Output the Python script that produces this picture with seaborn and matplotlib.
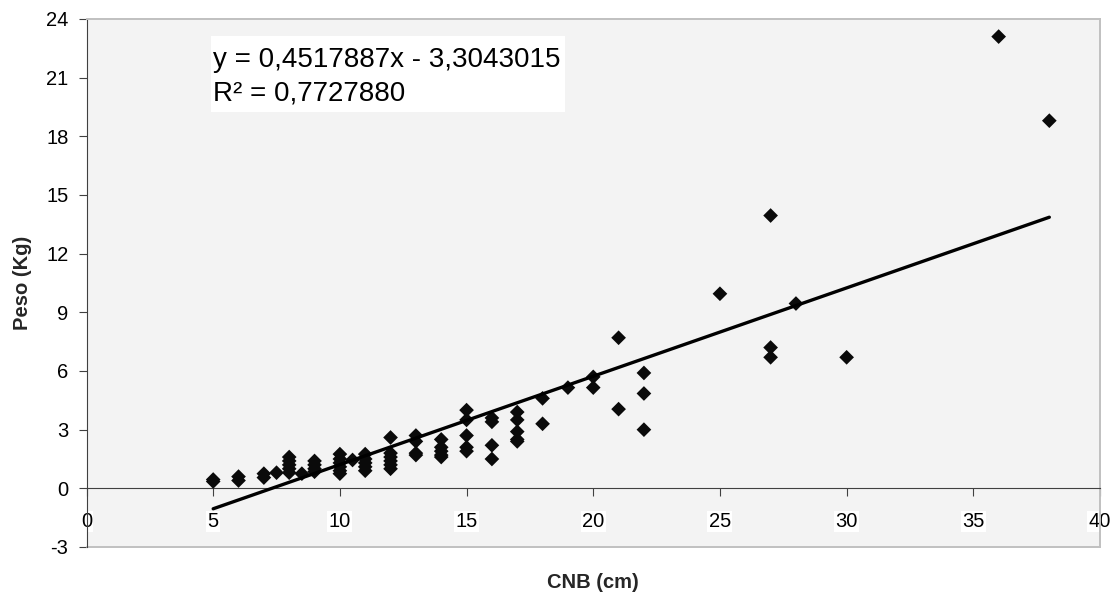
import numpy as np
import pandas as pd
import matplotlib
matplotlib.use("Agg")
import matplotlib.pyplot as plt
from matplotlib.patches import Rectangle
import seaborn as sns

# Measured specimens: body length (CNB, cm) and weight (kg)
cnb_cm = [
    5, 5,
    6, 6,
    7, 7,
    7.5,
    8, 8, 8, 8, 8,
    8.5,
    9, 9, 9, 9,
    10, 10, 10, 10, 10, 10,
    10.5,
    11, 11, 11, 11, 11,
    12, 12, 12, 12, 12, 12,
    13, 13, 13, 13,
    14, 14, 14, 14, 14,
    15, 15, 15, 15, 15,
    16, 16, 16, 16,
    17, 17, 17, 17, 17,
    18, 18,
    19,
    20, 20,
    21, 21,
    22, 22, 22,
    25,
    27, 27, 27,
    28,
    30,
    36,
    38,
]
peso_kg = [
    0.35, 0.45,
    0.40, 0.60,
    0.55, 0.75,
    0.80,
    0.80, 1.00, 1.20, 1.40, 1.60,
    0.75,
    0.85, 1.00, 1.20, 1.40,
    0.75, 0.90, 1.10, 1.30, 1.50, 1.75,
    1.45,
    0.90, 1.10, 1.30, 1.50, 1.75,
    1.00, 1.20, 1.40, 1.60, 1.80, 2.60,
    1.70, 1.80, 2.40, 2.70,
    1.60, 1.70, 1.90, 2.10, 2.50,
    1.90, 2.10, 2.70, 3.50, 4.00,
    1.50, 2.20, 3.40, 3.60,
    2.40, 2.50, 2.90, 3.50, 3.90,
    3.30, 4.60,
    5.15,
    5.15, 5.70,
    4.05, 7.70,
    3.00, 4.85, 5.90,
    9.95,
    6.70, 7.20, 13.95,
    9.45,
    6.70,
    23.10,
    18.80,
]

# Linear trend line coefficients
slope = 0.4517887
intercept = -3.3043015
r_squared = 0.7727880

x_ticks = list(range(0, 41, 5))
y_ticks = list(range(-3, 25, 3))

sns.set_theme(style="white")
plt.rcParams["font.family"] = ["Liberation Sans", "DejaVu Sans"]

W, H = 1114, 601
fig = plt.figure(figsize=(W / 100, H / 100), dpi=100)
fig.patch.set_facecolor("white")
left_px, right_px, top_px, bottom_px = 86.5, 1100, 19, 547
ax = fig.add_axes([left_px / W, 1 - bottom_px / H,
                   (right_px - left_px) / W, (bottom_px - top_px) / H])
ax.set_facecolor("#f3f3f3")

df = pd.DataFrame({"CNB (cm)": cnb_cm, "Peso (Kg)": peso_kg})
sns.scatterplot(data=df, x="CNB (cm)", y="Peso (Kg)", marker="D", s=56,
                color="#0a0a0a", edgecolor="none", linewidth=0, ax=ax,
                zorder=3, legend=False)

trend_x = np.array([min(cnb_cm), max(cnb_cm)], dtype=float)
trend_y = slope * trend_x + intercept
sns.lineplot(x=trend_x, y=trend_y, color="black", linewidth=2.4, ax=ax,
             zorder=4, legend=False)

ax.set_xlim(0, 40)
ax.set_ylim(-3, 24)
ax.set_xticks(x_ticks)
ax.set_yticks(y_ticks)
ax.set_xticklabels([str(t) for t in x_ticks])
ax.set_yticklabels([str(t) for t in y_ticks])

axis_col = "#404040"
border_col = "#c0c0c0"
ax.spines["bottom"].set_position(("data", 0))
for side in ("bottom", "left"):
    ax.spines[side].set_color(axis_col)
    ax.spines[side].set_linewidth(0.8)
for side in ("top", "right"):
    ax.spines[side].set_color(border_col)
    ax.spines[side].set_linewidth(1.4)
ax.plot([0, 1], [0, 0], transform=ax.transAxes, color=border_col,
        lw=1.4, clip_on=False, zorder=1)

ax.tick_params(axis="both", which="major", direction="out", length=5.5,
               width=0.8, color=axis_col, labelsize=14.5, labelcolor="black",
               bottom=True, left=True)
ax.tick_params(axis="x", pad=11.5)
ax.tick_params(axis="y", pad=7.5)
for lab in ax.get_xticklabels():
    lab.set_bbox(dict(facecolor="white", edgecolor="none", pad=1.0))

ax.set_xlabel("CNB (cm)", fontsize=14.5, fontweight="bold")
ax.set_ylabel("Peso (Kg)", fontsize=14.5, fontweight="bold")
ax.xaxis.set_label_coords(0.5, -0.05)
ax.yaxis.set_label_coords(-0.054, 0.5)

eq = (f"y = {slope:.7f}x - {abs(intercept):.7f}".replace(".", ",")
      + "\n" + f"R² = {r_squared:.7f}".replace(".", ","))
eq_text = ax.text(5.0, 22.55, eq, fontsize=20, ha="left", va="top",
                  linespacing=1.35, color="black", zorder=6)

# White label box fitted around the equation text
fig.canvas.draw()
bb = eq_text.get_window_extent(fig.canvas.get_renderer())
box = Rectangle((bb.x0 - 2, bb.y0 - 6), bb.width + 6, bb.height + 17,
                transform=None, facecolor="white", edgecolor="none",
                zorder=5)
ax.add_artist(box)

fig.savefig("out.png", dpi=100, facecolor="white")
